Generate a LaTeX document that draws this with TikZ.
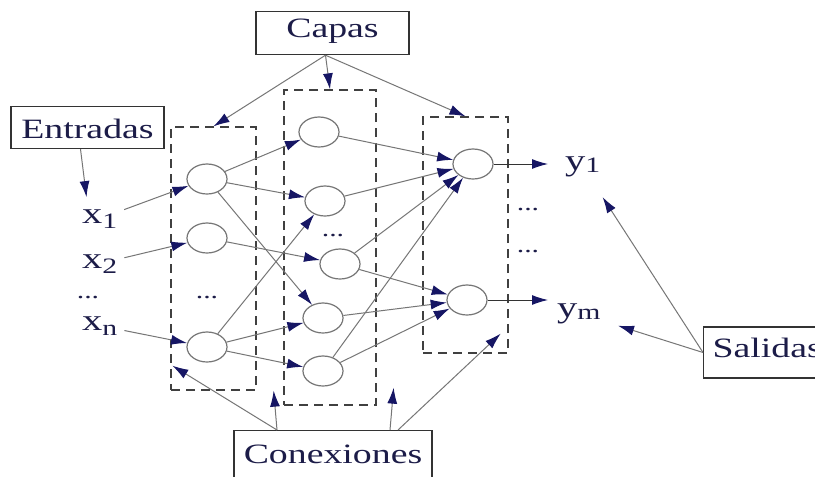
\documentclass[tikz,border=0pt]{standalone}
\usepackage{fontspec}
\setmainfont{Liberation Serif}[FakeStretch=1.35]
\usetikzlibrary{shapes.geometric,arrows.meta}
\definecolor{ink}{RGB}{28,28,72}
\definecolor{navy}{RGB}{22,22,100}
\definecolor{wire}{RGB}{118,118,118}
\newcommand\varsub[2][-5pt]{\raisebox{#1}{\fontsize{22}{24}\selectfont#2}}
\begin{document}
\begin{tikzpicture}[x=1pt, y=-1pt,
  every node/.style={text=ink, font=\fontsize{28}{30}\selectfont},
  neuron/.style={ellipse, draw=wire, line width=1.2pt, minimum width=40pt, minimum height=30pt, inner sep=0pt},
  layerbox/.style={draw=black!75, line width=1.3pt, dash pattern=on 9pt off 6pt, inner sep=0pt},
  tagbox/.style={draw=black!80, line width=1.2pt, inner ysep=0pt, inner xsep=0pt},
  var/.style={font=\fontsize{30}{32}\selectfont, inner sep=2pt, anchor=base west},
  dotsym/.style={font=\fontsize{22}{24}\selectfont},
  conn/.style={draw=wire, line width=1pt, -{Latex[length=16pt,width=10pt,color=navy]}},
  outlink/.style={draw=black!80, line width=1pt, -{Latex[length=16pt,width=10pt,color=navy]}}]
\useasboundingbox[fill=white] (0,0) rectangle (815,477);

\node[layerbox, minimum width=85pt, minimum height=263pt] (capa1) at (213.5,258.5) {};
\node[layerbox, minimum width=92pt, minimum height=315pt] (capa2) at (330,247.5) {};
\node[layerbox, minimum width=85pt, minimum height=236pt] (capa3) at (465.5,235) {};

\node[neuron] (h1a) at (207,179) {};
\node[neuron] (h1b) at (207,238) {};
\node[neuron] (h1c) at (207,347) {};
\node[neuron] (h2a) at (319,132) {};
\node[neuron] (h2b) at (325,201) {};
\node[neuron] (h2c) at (340,264) {};
\node[neuron] (h2d) at (323,318) {};
\node[neuron] (h2e) at (323,371) {};
\node[neuron] (o1) at (473,164) {};
\node[neuron] (om) at (467,300) {};

\node[var] (x1) at (80,223) {x\varsub{1}};
\node[var] (x2) at (80,268) {x\varsub{2}};
\node[var] (xn) at (80,330) {x\varsub{n}};
\node[var] (y1) at (563,170) {y\varsub[-2pt]{1}};
\node[var] (ym) at (555,317) {y\varsub[-2pt]{m}};

\node[dotsym] (dotsx) at (88,298) {...};
\node[dotsym] (dots1) at (207,298) {...};
\node[dotsym] (dots2) at (333,236) {...};
\node[dotsym] (dotsya) at (528,210) {...};
\node[dotsym] (dotsyb) at (528,252) {...};

\node[tagbox, anchor=north, minimum width=153pt, text height=26pt, text depth=17pt] (capas) at (332.5,11) {Capas};
\node[tagbox, anchor=north, minimum width=153pt, text height=32pt, text depth=10pt] (entradas) at (87.5,106) {Entradas};
\node[tagbox, anchor=north, minimum width=198pt, text height=33pt, text depth=20pt] (conex) at (333,430) {Conexiones};
\node[tagbox, anchor=west, inner xsep=9pt, minimum height=51pt, text height=19pt, text depth=9pt] (salidas) at (703,352.5) {Salidas};

% entradas a la primera capa
\draw[conn, shorten >=10pt] ([xshift=-7pt]entradas.south) -- ([xshift=-12pt]x1.north);
\draw[conn, shorten <=5pt] (x1) -- (h1a);
\draw[conn, shorten <=5pt] (x2) -- (h1b);
\draw[conn, shorten <=5pt] (xn) -- (h1c);

\foreach \a/\b in {h1a/h2a, h1a/h2b, h1a/h2d, h1b/h2c, h1c/h2b, h1c/h2d, h1c/h2e,
                   h2a/o1, h2b/o1, h2c/o1, h2e/o1, h2c/om, h2d/om, h2e/om}
  \draw[conn] (\a) -- (\b);

\draw[outlink, shorten >=15pt] (o1.east) -- (o1.east -| y1.west);
\draw[outlink, shorten >=7pt] (om.east) -- (om.east -| ym.west);

% etiquetas
\draw[conn] ([xshift=-7pt]capas.south) -- (capa1.north);
\draw[conn] ([xshift=-7pt]capas.south) -- (capa2.north);
\draw[conn] ([xshift=-7pt]capas.south) -- (capa3.north);
\draw[conn] ([xshift=-56pt]conex.north) -- ([shift={(2,-25)}]capa1.south west);
\draw[conn] ([xshift=-56pt]conex.north) -- ([xshift=17pt]capa1.south east);
\draw[conn] ([xshift=57pt]conex.north) -- ([shift={(17,-18)}]capa2.south east);
\draw[conn] ([xshift=65pt]conex.north) -- ([shift={(-8,-20)}]capa3.south east);
\draw[conn, shorten >=22pt] (salidas.west) -- (y1);
\draw[conn, shorten >=16pt] (salidas.west) -- (ym);
\end{tikzpicture}
\end{document}
